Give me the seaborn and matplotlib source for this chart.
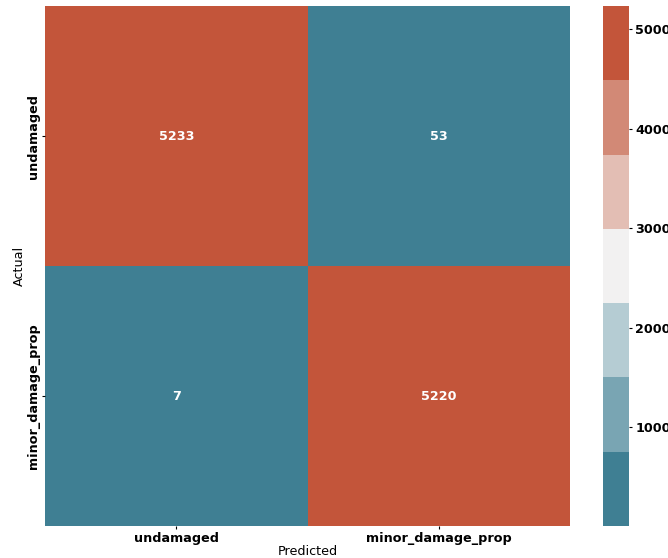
import numpy as np
import pandas as pd
import seaborn as sns
import matplotlib
matplotlib.use("Agg")
import matplotlib.pyplot as plt
from matplotlib.colors import ListedColormap

# Confusion matrix counts
classes = ["undamaged", "minor_damage_prop"]
row_undamaged = [5233, 53]
row_minor = [7, 5220]
cbar_ticks = [1000, 2000, 3000, 4000, 5000]

cm = pd.DataFrame([row_undamaged, row_minor], index=classes, columns=classes)

cmap = ListedColormap(sns.diverging_palette(220, 20, n=7))

fig = plt.figure(figsize=(6.68, 5.58), dpi=100)
ax = fig.add_axes([0.0674, 0.0573, 0.7859, 0.9319])
cax = fig.add_axes([0.9027, 0.0573, 0.0389, 0.9319])

fs = 9.2
sns.heatmap(cm, annot=True, fmt="d", cmap=cmap, ax=ax, cbar_ax=cax,
            annot_kws={"color": "white", "fontsize": fs, "fontweight": "bold"})

ax.set_xlabel("Predicted", fontsize=fs, labelpad=0)
ax.set_ylabel("Actual", fontsize=fs, labelpad=1)
ax.set_xticklabels(ax.get_xticklabels(), fontsize=fs, fontweight="bold", rotation=0)
ax.set_yticklabels(ax.get_yticklabels(), fontsize=fs, fontweight="bold", rotation=90, va="center")
ax.tick_params(axis="x", length=2.5, pad=2)
ax.tick_params(axis="y", length=2.5, pad=1)

cax.set_yticks(cbar_ticks)
cax.set_yticklabels([str(t) for t in cbar_ticks], fontsize=fs, fontweight="bold")
cax.tick_params(length=2.5, pad=2)

fig.savefig("out.png", dpi=100)
